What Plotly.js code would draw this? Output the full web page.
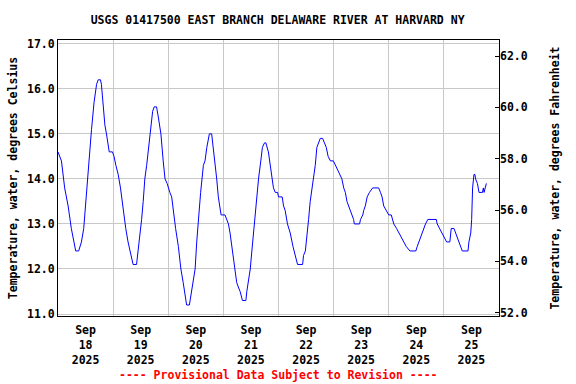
<!DOCTYPE html>
<html>
<head>
<meta charset="utf-8">
<script src="https://cdn.plot.ly/plotly-3.0.1.min.js"></script>
<style>html,body{margin:0;padding:0;background:#fff;}#chart{width:576px;height:384px;}</style>
</head>
<body>
<div id="chart"></div>
<script>
// Hours since 2025-09-18 00:00 and water temperature (deg C)
const hoursSinceStart = [0,1.5,2.9,4.4,5.8,6.9,7.7,9.0,10.2,11.2,12.1,12.7,13.8,14.6,15.7,16.8,17.5,18.5,18.9,19.6,20.4,21.1,21.6,22.3,23.7,24.4,25.2,26.2,27.2,28.4,29.5,30.5,31.4,32.3,32.7,34.2,34.9,35.7,36.4,37.1,37.8,38.6,40.0,41.2,41.9,42.9,43.6,44.8,45.8,46.6,47.5,48.0,48.7,49.5,50.2,51.2,52.4,53.5,54.5,55.3,56.0,57.2,58.2,58.9,59.7,60.4,61.1,62.1,63.3,64.0,64.8,65.9,66.9,67.6,68.4,69.1,69.8,70.3,71.0,72.7,73.5,74.2,74.9,75.7,76.4,77.1,77.8,78.5,79.3,80.3,81.8,82.2,82.9,83.7,84.4,85.1,85.8,86.6,87.3,88.3,89.0,89.9,90.5,91.6,92.4,93.1,93.8,94.6,95.6,96.0,97.6,98.2,98.9,99.9,101.1,102.3,103.3,104.3,106.5,106.9,107.7,108.4,109.1,109.8,110.6,111.3,112.0,112.7,113.5,114.2,115.2,116.1,116.8,117.6,118.6,119.9,120.8,121.7,122.9,123.6,124.4,125.1,125.8,126.5,127.3,128.0,128.7,129.0,131.3,131.7,132.7,133.1,133.8,134.6,135.6,137.0,139.6,140.4,141.1,141.8,142.9,144.0,145.1,146.2,147.4,148.4,149.5,150.5,151.6,153.2,155.8,156.4,157.1,157.8,158.6,159.3,160.0,161.0,164.7,165.1,166.1,167.0,168.0,169.2,170.6,171.2,172.4,173.1,173.8,174.5,175.3,176.0,178.5,178.9,179.7,180.1,180.5,181.1,181.5,181.8,182.6,183.0,183.3,184.8,185.2,185.5,186.2,186.5];
const tempC = [14.6,14.4,13.8,13.4,12.9,12.6,12.4,12.4,12.6,12.9,13.5,14.0,14.7,15.1,15.7,16.1,16.2,16.2,16.1,15.6,15.2,15.0,14.8,14.6,14.6,14.5,14.3,14.1,13.8,13.3,12.9,12.6,12.4,12.2,12.1,12.1,12.4,12.7,13.1,13.5,14.0,14.3,15.0,15.5,15.6,15.6,15.4,15.0,14.4,14.0,13.9,13.8,13.7,13.6,13.3,12.9,12.5,12.0,11.7,11.4,11.2,11.2,11.5,11.7,12.0,12.6,13.1,13.7,14.3,14.4,14.7,15.0,15.0,14.7,14.3,14.0,13.6,13.4,13.2,13.2,13.1,13.0,12.8,12.5,12.2,12.0,11.7,11.6,11.5,11.3,11.3,11.5,11.7,12.0,12.4,12.8,13.2,13.7,14.0,14.4,14.7,14.8,14.8,14.6,14.3,14.0,13.8,13.7,13.7,13.6,13.6,13.4,13.3,13.0,12.8,12.5,12.3,12.1,12.1,12.3,12.4,12.7,13.1,13.5,13.8,14.1,14.3,14.7,14.8,14.9,14.9,14.8,14.7,14.5,14.4,14.4,14.3,14.2,14.1,14.0,13.8,13.7,13.5,13.4,13.3,13.2,13.1,13.0,13.0,13.1,13.2,13.3,13.4,13.6,13.7,13.8,13.8,13.7,13.6,13.4,13.3,13.2,13.2,13.0,12.9,12.8,12.7,12.6,12.5,12.4,12.4,12.5,12.6,12.7,12.8,12.9,13.0,13.1,13.1,13.0,12.9,12.8,12.7,12.6,12.6,12.9,12.9,12.8,12.7,12.6,12.5,12.4,12.4,12.6,12.8,13.1,13.8,14.1,14.1,14.0,13.9,13.8,13.7,13.7,13.8,13.7,13.9,13.9];
const tickDates = ['2025-09-18 12:00','2025-09-19 12:00','2025-09-20 12:00','2025-09-21 12:00','2025-09-22 12:00','2025-09-23 12:00','2025-09-24 12:00','2025-09-25 12:00'];
const tickLabels = ['Sep<br>18<br>2025','Sep<br>19<br>2025','Sep<br>20<br>2025','Sep<br>21<br>2025','Sep<br>22<br>2025','Sep<br>23<br>2025','Sep<br>24<br>2025','Sep<br>25<br>2025'];
const leftTicks = [11,12,13,14,15,16,17];
const rightTicks = [52,54,56,58,60,62];

const t0 = Date.UTC(2025, 8, 18, 0, 0, 0);
const times = hoursSinceStart.map(h => new Date(t0 + Math.round(h * 3600000)).toISOString().slice(0, 19).replace('T', ' '));
const tempF = tempC.map(c => c * 1.8 + 32);

const mono = 'DejaVu Sans Mono, Liberation Mono, monospace';
const f = {family: mono, size: 11.5, color: '#000', weight: 'bold'};

const data = [
  {x: times, y: tempC, type: 'scatter', mode: 'lines', line: {color: '#0000ff', width: 1}, hoverinfo: 'skip', showlegend: false},
  {x: times, y: tempF, type: 'scatter', mode: 'lines', yaxis: 'y2', line: {color: 'rgba(0,0,0,0)', width: 0}, hoverinfo: 'skip', showlegend: false}
];

const layout = {
  width: 576, height: 384,
  margin: {l: 58, r: 77, t: 40, b: 68, pad: 0},
  paper_bgcolor: '#fff', plot_bgcolor: '#fff',
  showlegend: false,
  font: f,
  title: {text: 'USGS 01417500 EAST BRANCH DELAWARE RIVER AT HARVARD NY', font: f, x: 0.482, xanchor: 'center', y: 1 - 20/384, yanchor: 'middle', yref: 'container'},
  xaxis: {
    type: 'date', range: ['2025-09-18 00:00', '2025-09-26 00:00'],
    tickmode: 'array', tickvals: tickDates, ticktext: tickLabels, ticks: '', ticklabelstandoff: 3,
    showgrid: false, tickfont: f,
    minor: {showgrid: true, gridcolor: '#c8c8c8', gridwidth: 1, dtick: 86400000, tick0: '2025-09-18 00:00', ticks: ''},
    showline: true, linecolor: '#000', linewidth: 1, mirror: true, zeroline: false, fixedrange: true
  },
  yaxis: {
    range: [10.956, 17.084], tickmode: 'array', tickvals: leftTicks, ticktext: leftTicks.map(v => v.toFixed(1)),
    tickfont: f, ticks: '', showgrid: true, gridcolor: '#c8c8c8', gridwidth: 1, zeroline: false,
    showline: true, linecolor: '#000', linewidth: 1, mirror: true,
    title: {text: 'Temperature, water, degrees Celsius', font: f, standoff: 6}, fixedrange: true
  },
  yaxis2: {
    overlaying: 'y', side: 'right', range: [51.87, 62.63], tickmode: 'array', tickvals: rightTicks,
    ticktext: rightTicks.map(v => v.toFixed(1)), tickfont: f, ticks: 'inside', ticklen: 4, tickcolor: '#000',
    showgrid: false, zeroline: false, showline: false,
    title: {text: 'Temperature, water, degrees Fahrenheit', font: f, standoff: 24}, fixedrange: true
  },
  annotations: [
    {text: '---- Provisional Data Subject to Revision ----', xref: 'paper', yref: 'paper', x: 0.5, y: -(375 - 316) / 276, xanchor: 'center', yanchor: 'middle', showarrow: false, font: {family: mono, size: 11.5, color: '#ff0000', weight: 'bold'}}
  ]
};

Plotly.newPlot('chart', data, layout, {staticPlot: true, displayModeBar: false});
</script>
</body>
</html>
